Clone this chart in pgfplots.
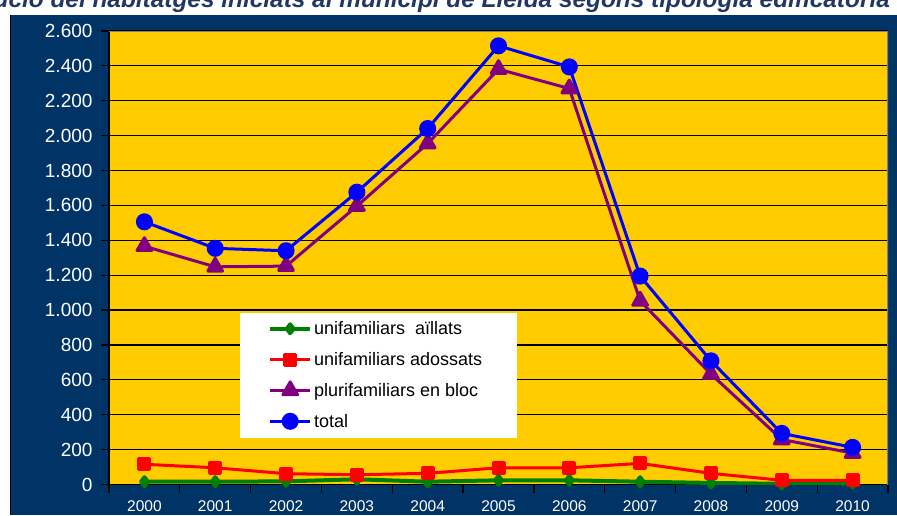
\documentclass[border=0pt]{standalone}
\usepackage{fontspec}
\setmainfont{Liberation Sans}
\usepackage{pgfplots}
\pgfplotsset{compat=1.18}
\definecolor{navy}{RGB}{0,51,102}
\definecolor{gold}{RGB}{255,204,0}
\definecolor{titlec}{RGB}{35,55,100}
\definecolor{gr}{RGB}{0,128,0}
\definecolor{pu}{RGB}{128,0,128}
\begin{document}
\begin{tikzpicture}[x=1pt,y=1pt]
\useasboundingbox (0,0) rectangle (897,515);
\fill[white] (0,0) rectangle (897,515);
\fill[navy] (10,0) rectangle (897,500);
\draw[black, line width=1pt] (10.5,0) -- (10.5,500);
\node[anchor=base east, font=\fontsize{24.4}{28}\selectfont\bfseries\itshape, text=titlec, inner sep=0pt] at (890,507.5) {Evolució del habitatges iniciats al municipi de Lleida segons tipologia edificatòria};
\begin{axis}[
  at={(109pt,30.5pt)}, anchor=south west,
  width=779pt, height=453.5pt, scale only axis,
  xmin=-0.5, xmax=10.5, ymin=0, ymax=2600,
  axis background/.style={fill=gold},
  axis x line*=bottom, axis y line*=left,
  axis line style={black, line width=1.2pt},
  ytick={0,200,...,2600},
  ymajorgrids, grid style={black, line width=1.2pt},
  xtick={-0.5,0.5,...,10.5}, xticklabels={},
  extra x ticks={0,1,2,3,4,5,6,7,8,9,10},
  extra x tick labels={2000,2001,2002,2003,2004,2005,2006,2007,2008,2009,2010},
  extra x tick style={major tick length=0pt, tick style={draw=none}},
  tick align=outside, major tick length=8pt,
  tick style={black, line width=1.2pt},
  yticklabel style={font=\fontsize{19}{22}\selectfont, text=white, xshift=-5pt},
  xticklabel style={font=\fontsize{15.5}{18}\selectfont, text=white, yshift=-13pt},
  /pgf/number format/1000 sep={.},
  /pgf/number format/assume math mode=true,
  legend style={at={(axis description cs:0.2041,0.3643)}, anchor=north west, draw=none, fill=none,
    font=\fontsize{18}{21}\selectfont, row sep=12.3pt, inner sep=0pt, cells={anchor=west}},
  legend image code/.code={\draw[mark repeat=2, mark phase=2, #1] plot coordinates {(0pt,0pt) (20pt,0pt) (40pt,0pt)};},
  line join=round,
]
\addplot[gr, line width=4pt, mark=diamond*, mark size=4.5pt, mark options={solid}] coordinates {
(0,16) (1,16) (2,18) (3,30) (4,16) (5,24) (6,24) (7,16) (8,9) (9,4) (10,8)};
\addlegendentry{unifamiliars\ \ aïllats}
\addplot[red, line width=3pt, mark=square*, mark size=5.5pt, mark options={solid}] coordinates {
(0,116) (1,96) (2,62) (3,56) (4,64) (5,96) (6,96) (7,121) (8,64) (9,24) (10,24)};
\addlegendentry{unifamiliars adossats}
\addplot[pu, line width=3pt, mark=triangle*, mark size=8.5pt, mark options={solid}] coordinates {
(0,1366) (1,1248) (2,1252) (3,1596) (4,1955) (5,2381) (6,2270) (7,1053) (8,633) (9,258) (10,180)};
\addlegendentry{plurifamiliars en bloc}
\addplot[blue, line width=3pt, mark=*, mark size=7pt, mark options={solid}] coordinates {
(0,1506) (1,1354) (2,1340) (3,1676) (4,2041) (5,2515) (6,2394) (7,1195) (8,709) (9,293) (10,213)};
\addlegendentry{total}
\fill[white] (axis description cs:0.1682,0.1019) rectangle (axis description cs:0.5234,0.3775);
\draw[gray, line width=1.5pt] (axis description cs:0,1) -- (axis description cs:1,1) -- (axis description cs:1,0);
\end{axis}
\end{tikzpicture}
\end{document}
